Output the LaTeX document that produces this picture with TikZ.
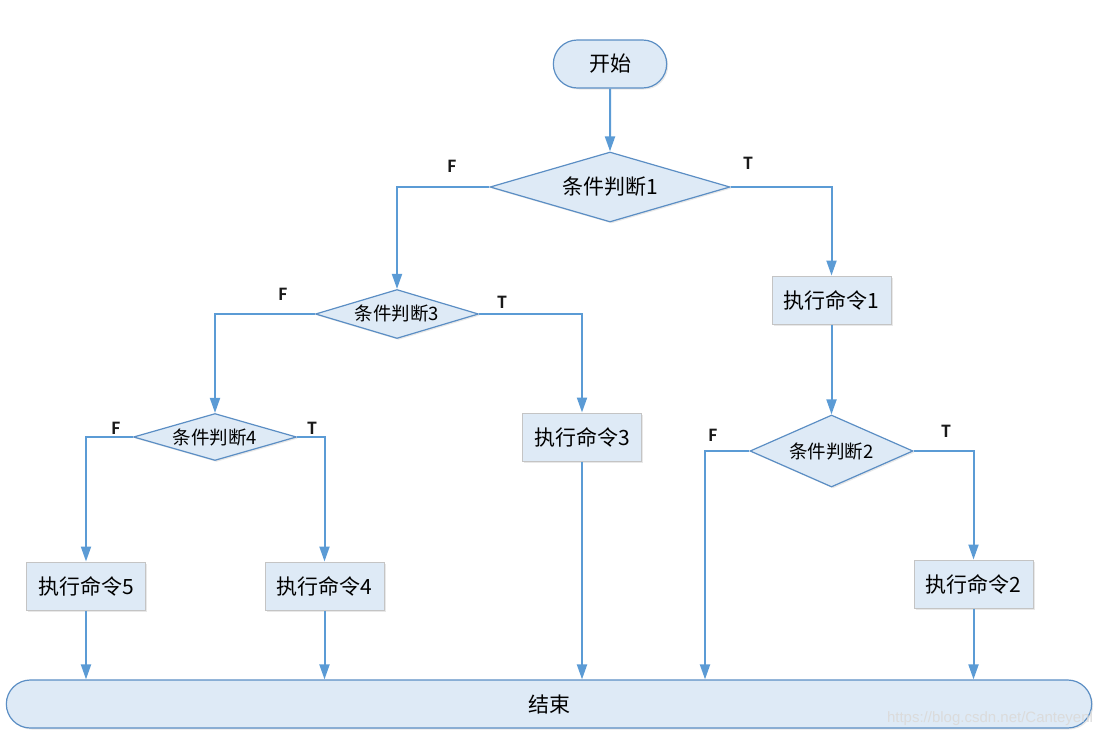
\documentclass[tikz,border=0pt]{standalone}
\usepackage{fontspec}
\setmainfont{Carlito}
\newfontfamily\cjkfont{Noto Sans CJK SC}
\newfontfamily\markfont{Liberation Sans}
\usepackage{tikz}
\usetikzlibrary{arrows.meta, shapes.geometric, shapes.misc, shadows}

\definecolor{boxfill}{HTML}{DEEAF6}
\definecolor{edgeblue}{HTML}{5B8EC4}
\definecolor{lineblue}{HTML}{5B9BD5}
\definecolor{boxgray}{HTML}{C4C4C4}

\begin{document}
\begin{tikzpicture}[x=1pt, y=-1pt, >={Triangle[length=15pt, width=10pt]},
    term/.style={rounded rectangle, draw=edgeblue, line width=1.2pt, fill=boxfill,
      minimum height=48pt, font=\cjkfont\fontsize{21}{25}\selectfont,
      drop shadow={opacity=0.18, shadow xshift=1.5pt, shadow yshift=-1.5pt}},
    cond/.style={diamond, aspect=3.4, draw=edgeblue, line width=1.2pt, fill=boxfill,
      inner sep=0pt, minimum width=163pt, minimum height=48pt,
      font=\cjkfont\fontsize{18.5}{22}\selectfont,
      drop shadow={opacity=0.18, shadow xshift=1.5pt, shadow yshift=-1.5pt}},
    act/.style={rectangle, draw=boxgray, line width=1pt, fill=boxfill,
      minimum width=119pt, minimum height=48pt, font=\cjkfont\fontsize{21}{25}\selectfont,
      drop shadow={opacity=0.18, shadow xshift=1.5pt, shadow yshift=-1.5pt}},
    flow/.style={draw=lineblue, line width=2pt},
    lab/.style={font=\bfseries\fontsize{19}{22}\selectfont, text=black!90}]
    \useasboundingbox (0,0) rectangle (1107,739);
    % Start and end
    \node[term, minimum width=120pt] (start) at (610,64) {开始};
    \node[term, minimum width=1092pt] (done) at (549,704) {结束};
    % Conditions
    \node[cond, minimum width=240pt, minimum height=70pt,
      font=\cjkfont\fontsize{21}{25}\selectfont] (d1) at (610,187) {条件判断1};
    \node[cond, minimum height=49pt] (d3) at (397,314) {条件判断3};
    \node[cond, minimum height=47pt] (d4) at (215,437) {条件判断4};
    \node[cond, minimum height=72pt] (d2) at (831.5,451) {条件判断2};
    % Commands
    \node[act] (b1) at (831.5,300) {执行命令1};
    \node[act] (b3) at (582,437) {执行命令3};
    \node[act] (b5) at (86,586) {执行命令5};
    \node[act] (b4) at (324.5,586) {执行命令4};
    \node[act] (b2) at (973.5,584) {执行命令2};
    % Branch labels
    \node[lab] (f1) at (452,166) {F};
    \node[lab] (t1) at (748,163) {T};
    \node[lab] (f3) at (283,294) {F};
    \node[lab] (t3) at (502,302) {T};
    \node[lab] (f4) at (116,428) {F};
    \node[lab] (t4) at (312,428) {T};
    \node[lab] (f2) at (713,435) {F};
    \node[lab] (t2) at (946,431) {T};
    % Connectors
    \draw[flow, ->] (start) -- (d1);
    \draw[flow, ->] (d1.west) -| (d3.north);
    \draw[flow, ->] (d1.east) -| (b1.north);
    \draw[flow, ->] (d3.west) -| (d4.north);
    \draw[flow, ->] (d3.east) -| (b3.north);
    \draw[flow, ->] (d4.west) -| (b5.north);
    \draw[flow, ->] (d4.east) -| (b4.north);
    \draw[flow, ->] (b1) -- (d2);
    \draw[flow, ->] (d2.east) -| (b2.north);
    \coordinate (f2x) at (705,0);
    \draw[flow, ->] (d2.west) -| (f2x |- done.north);
    \draw[flow, ->] (b5) -- (b5 |- done.north);
    \draw[flow, ->] (b4) -- (b4 |- done.north);
    \draw[flow, ->] (b3) -- (b3 |- done.north);
    \draw[flow, ->] (b2) -- (b2 |- done.north);
    % Watermark
    \node[font=\markfont\fontsize{15}{18}\selectfont, text=gray!28] (mark) at (990,719) {https://blog.csdn.net/Canteyenl};
\end{tikzpicture}
\end{document}
